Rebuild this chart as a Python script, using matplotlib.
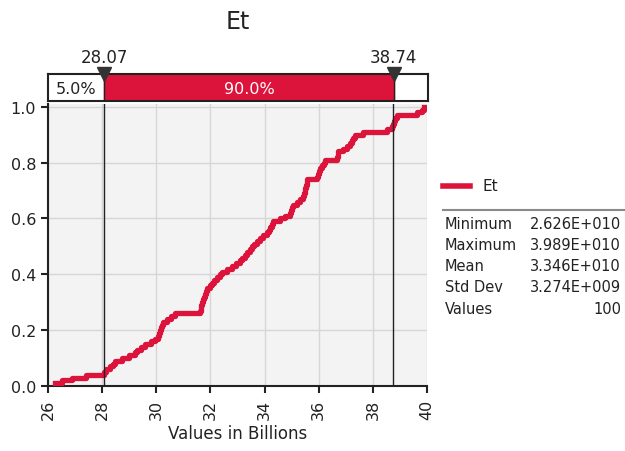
import matplotlib.pyplot as plt
from matplotlib.lines import Line2D

# sorted simulation results for Et, in billions (100 iterations)
et_values = [26.26, 26.50, 26.90, 27.40, 28.07, 28.15, 28.30, 28.40, 28.47, 28.73,
             29.00, 29.21, 29.29, 29.45, 29.58, 29.80, 29.95, 30.05, 30.10, 30.14,
             30.18, 30.22, 30.25, 30.40, 30.55, 30.69, 31.60, 31.65, 31.67, 31.69,
             31.72, 31.76, 31.80, 31.84, 31.87, 31.98, 32.05, 32.12, 32.25, 32.35,
             32.43, 32.60, 32.80, 32.95, 33.09, 33.18, 33.27, 33.35, 33.45, 33.54,
             33.62, 33.73, 33.83, 33.96, 34.09, 34.15, 34.20, 34.26, 34.31, 34.57,
             34.75, 34.94, 34.98, 35.02, 35.05, 35.20, 35.30, 35.42, 35.45, 35.48,
             35.50, 35.52, 35.55, 35.57, 35.94, 35.98, 36.02, 36.05, 36.12, 36.18,
             36.23, 36.68, 36.70, 36.71, 36.90, 37.05, 37.16, 37.22, 37.28, 37.34,
             37.64, 38.52, 38.71, 38.74, 38.77, 38.82, 38.89, 39.63, 39.80, 39.89]
n_vals = len(et_values)
cum_prob = [(i + 1) / n_vals for i in range(n_vals)]

# delimiters for the 90% band
lo_val, hi_val = 28.07, 38.74
left_pct, mid_pct = '5.0%', '90.0%'

stat_names = ['Minimum', 'Maximum', 'Mean', 'Std Dev', 'Values']
stat_values = [2.626e10, 3.989e10, 3.346e10, 3.274e9, 100]

RED = '#dc143c'
TXT = '#222222'


def fmt_stat(v):
    if isinstance(v, int):
        return str(v)
    s = '%.3E' % v
    mant, exp = s.split('E')
    return '%sE%s%03d' % (mant, exp[0], int(exp[1:]))


plt.rcParams['font.family'] = 'DejaVu Sans'
W, H = 625.0, 452.0

fig = plt.figure(figsize=(6.25, 4.52), dpi=100)

# main cumulative plot
ax = fig.add_axes([48 / W, 1 - 387 / H, 379 / W, 282 / H])
ax.set_facecolor('#f3f3f3')
ax.step(et_values, cum_prob, where='post', color=RED, lw=3.8, zorder=3)
ax.axvline(lo_val, color='#222222', lw=1, zorder=4)
ax.axvline(hi_val, color='#222222', lw=1, zorder=4)
ax.set_xlim(26, 40)
ax.set_ylim(0, 1.01)
ax.set_xticks(range(26, 41, 2))
ax.set_yticks([0, 0.2, 0.4, 0.6, 0.8, 1.0])
ax.set_yticklabels(['0.0', '0.2', '0.4', '0.6', '0.8', '1.0'])
ax.grid(color='#d6d6d6', lw=1)
ax.set_axisbelow(True)
for side in ['top', 'right']:
    ax.spines[side].set_visible(False)
for side in ['left', 'bottom']:
    ax.spines[side].set_linewidth(1.5)
    ax.spines[side].set_color('#222222')
ax.tick_params(direction='out', length=5, width=1.5, color='#222222',
               labelsize=11.5, labelcolor=TXT)
ax.tick_params(axis='x', labelrotation=90, pad=4)
ax.set_xlabel('Values in Billions', fontsize=12, color=TXT, labelpad=4)

# delimiter band above the plot
band = fig.add_axes([48 / W, 1 - 102 / H, 380 / W, 27 / H])
band.set_xlim(26, 40)
band.set_ylim(0, 1)
band.axvspan(lo_val, hi_val, color=RED)
band.axvline(lo_val, color='#222222', lw=1)
band.axvline(hi_val, color='#222222', lw=1)
band.set_xticks([])
band.set_yticks([])
for sp in band.spines.values():
    sp.set_linewidth(1.5)
    sp.set_color('#222222')
band.text((26 + lo_val) / 2, 0.45, left_pct, ha='center', va='center',
          fontsize=11.5, color=TXT)
band.text((lo_val + hi_val) / 2, 0.45, mid_pct, ha='center', va='center',
          fontsize=11.5, color='white')
band.plot([lo_val, hi_val], [1, 1], ls='none', marker='v', ms=10,
          color='#333333', clip_on=False, zorder=5)
for v in [lo_val, hi_val]:
    band.annotate('%.2f' % v, (v, 1), xytext=(0, 6), textcoords='offset points',
                  ha='center', va='bottom', fontsize=12, color=TXT,
                  annotation_clip=False)

fig.text(237.5 / W, 1 - 22 / H, 'Et', ha='center', va='center', fontsize=17,
         color=TXT)

# legend and statistics on the right
fig.add_artist(Line2D([443 / W, 470 / W], [1 - 187 / H] * 2, color=RED, lw=4))
fig.text(482 / W, 1 - 187 / H, 'Et', va='center', fontsize=11, color=TXT)
fig.add_artist(Line2D([443 / W, 1.0], [1 - 211 / H] * 2, color='#8a8a8a', lw=1.5))
row_y = [225, 246, 267, 288, 310]
for name, val, y in zip(stat_names, stat_values, row_y):
    fig.text(445 / W, 1 - y / H, name, va='center', fontsize=10.5, color=TXT)
    fig.text(621 / W, 1 - y / H, fmt_stat(val), va='center', ha='right',
             fontsize=10.5, color=TXT)

fig.savefig('out.png', dpi=100)
